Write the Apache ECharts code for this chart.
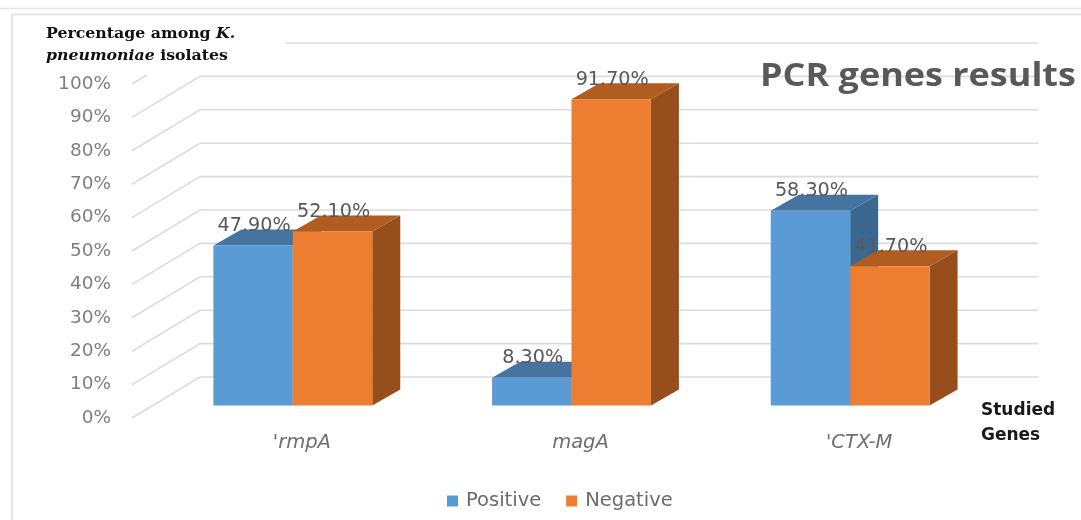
<!DOCTYPE html>
<html><head><meta charset="utf-8">
<style>html,body{margin:0;padding:0;background:#fff}#c{width:1081px;height:520px}</style>
<script src="https://cdn.jsdelivr.net/npm/echarts@6/dist/echarts.min.js"></script>
</head><body><div id="c"></div>
<script>
const categories = ["'rmpA", "magA", "'CTX-M"];
const positive = [47.9, 8.3, 58.3];
const negative = [52.1, 91.7, 41.7];
const yTicks = [0,10,20,30,40,50,60,70,80,90,100];

const DEPTH_X = 28, DEPTH_Y = -16, WALL_X = -68, WALL_Y = 41, LINE = '#dcdcdc';
const sans = 'DejaVu Sans';

function barSeries(name, values, slot, front, top, side) {
  return {
    type: 'custom', name, xAxisIndex: 0, yAxisIndex: 0, z: 5 + slot,
    itemStyle: { color: front },
    data: values.map((v, i) => [i, v]),
    encode: { x: 0, y: 1 },
    renderItem(params, api) {
      const band = api.size([1, 0])[0];
      const w = band * 0.285;
      const c = api.coord([api.value(0), 0]);
      const t = api.coord([api.value(0), api.value(1)]);
      const l = c[0] + (slot - 1) * w, r = l + w, b = c[1], y = t[1];
      const poly = (points, fill) => ({ type: 'polygon', shape: { points }, style: { fill } });
      return { type: 'group', children: [
        poly([[r, y], [r + DEPTH_X, y + DEPTH_Y], [r + DEPTH_X, b + DEPTH_Y], [r, b]], side),
        poly([[l, y], [l + DEPTH_X, y + DEPTH_Y], [r + DEPTH_X, y + DEPTH_Y], [r, y]], top),
        { type: 'rect', shape: { x: l, y, width: w, height: b - y }, style: { fill: front } },
        { type: 'text', z2: 20, style: { text: api.value(1).toFixed(2) + '%', x: (l + r) / 2 + 1, y: y - 19.5,
            align: 'center', verticalAlign: 'middle', fill: '#595959', font: '19.2px "' + sans + '"' } }
      ]};
    }
  };
}

const wallSeries = {
  type: 'custom', silent: true, xAxisIndex: 2, yAxisIndex: 2, z: 1,
  data: yTicks.map(v => [0, v]),
  encode: { y: 1 },
  renderItem(params, api) {
    const v = api.value(1);
    const a = api.coord([0, v]), z = api.coord([1, v]);
    const front = [a[0] + WALL_X, a[1] + WALL_Y];
    const st = { stroke: LINE, lineWidth: 1.6, fill: null };
    if (v === 100) {
      return { type: 'group', children: [
        { type: 'line', shape: { x1: front[0], y1: front[1], x2: front[0] + 15, y2: front[1] - 9 }, style: st },
        { type: 'line', shape: { x1: a[0] + 85, y1: a[1], x2: z[0], y2: z[1] }, style: st }
      ]};
    }
    return { type: 'polyline', shape: { points: [front, a, z] }, style: st };
  }
};

const chart = echarts.init(document.getElementById('c'), null, { renderer: 'canvas' });
chart.setOption({
  animation: false,
  backgroundColor: '#ffffff',
  graphic: [
    { type: 'line', shape: { x1: 0, y1: 8.5, x2: 1081, y2: 8.5 }, style: { stroke: '#e8e8e8', lineWidth: 1.5 } },
    { type: 'line', shape: { x1: 12, y1: 14.5, x2: 1081, y2: 14.5 }, style: { stroke: '#e2e2e2', lineWidth: 1.5 } },
    { type: 'line', shape: { x1: 12, y1: 14.5, x2: 12, y2: 520 }, style: { stroke: '#e2e2e2', lineWidth: 2 } },
    { type: 'text', x: 760, y: 60, z: 50, scaleX: 1.09, style: {
        text: 'PCR genes results', font: 'bold 33px "Open Sans"', fill: '#595959' } },
    { type: 'text', x: 46, y: 23, scaleX: 1.05, style: {
        text: '{b|Percentage among }{i|K.}\n{i|pneumoniae}{b| isolates}',
        lineHeight: 22,
        rich: {
          b: { font: 'bold 15px "DejaVu Serif"', fill: '#111', lineHeight: 22 },
          i: { font: 'italic bold 15px "DejaVu Serif"', fill: '#111', lineHeight: 22 }
        } } },
    { type: 'text', x: 981, y: 398, style: { text: 'Studied\nGenes', font: 'bold 17px "DejaVu Sans"', fill: '#1a1a1a', lineHeight: 25 } }
  ],
  legend: {
    data: ['Positive', 'Negative'], left: 442, top: 486, icon: 'rect', itemWidth: 11, itemHeight: 11, itemGap: 25,
    selectedMode: false,
    textStyle: { fontFamily: sans, fontSize: 19.5, color: '#6b6b6b', padding: [0, 0, 0, 3] }
  },
  grid: [
    { left: 153.5, width: 836, top: 71.5, height: 334 },
    { left: 132, width: 838, top: 84, height: 334 },
    { left: 200, width: 838, top: 43, height: 334 }
  ],
  xAxis: [
    { type: 'category', gridIndex: 0, data: categories, axisLine: { show: false }, axisTick: { show: false },
      axisLabel: { margin: 27, padding: [0, 0, 0, 18], fontFamily: sans, fontStyle: 'italic', fontSize: 19.5, color: '#6f6f6f' } },
    { type: 'value', gridIndex: 1, min: 0, max: 1, show: false },
    { type: 'value', gridIndex: 2, min: 0, max: 1, show: false }
  ],
  yAxis: [
    { type: 'value', gridIndex: 0, min: 0, max: 100, interval: 10, show: false },
    { type: 'value', gridIndex: 1, min: 0, max: 100, interval: 10,
      axisLine: { show: false }, axisTick: { show: false }, splitLine: { show: false },
      axisLabel: { formatter: '{value}%', margin: 21, fontFamily: sans, fontSize: 18.5, color: '#7f7f7f' } },
    { type: 'value', gridIndex: 2, min: 0, max: 100, interval: 10, show: false }
  ],
  series: [
    wallSeries,
    barSeries('Positive', positive, 0, '#5B9BD5', '#44749F', '#3B6890'),
    barSeries('Negative', negative, 1, '#ED7D31', '#B15C20', '#964F1C')
  ]
});
</script></body></html>
